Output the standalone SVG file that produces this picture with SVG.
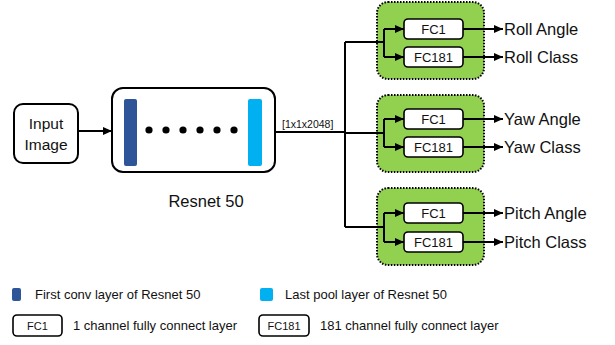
<svg xmlns="http://www.w3.org/2000/svg" width="615" height="345" viewBox="0 0 615 345">
  <defs>
    <marker id="arrow" markerUnits="userSpaceOnUse" markerWidth="9" markerHeight="8" refX="9" refY="4" orient="auto">
      <path d="M0,0 L9,4 L0,8 Z" fill="#000"/>
    </marker>
  </defs>
  <style>
    text { font-family: "Liberation Sans", Arial, sans-serif; fill: #111; }
    .box { fill: #fff; stroke: #000; stroke-width: 2; }
    .fc { fill: #fff; stroke: #000; stroke-width: 1.6; }
    .head { fill: #92D050; stroke: #000; stroke-width: 2; stroke-dasharray: 1.5 1.5; }
    .wire { fill: none; stroke: #000; stroke-width: 2; }
    .arr { fill: none; stroke: #000; stroke-width: 2; marker-end: url(#arrow); }
    .fct { font-size: 13px; text-anchor: middle; }
    .out { font-size: 16.5px; }
    .leg { font-size: 13px; }
  </style>

  <!-- input -->
  <g id="input">
    <rect class="box" x="14" y="104" width="64" height="59" rx="9"/>
    <text x="46" y="129" font-size="15.5" text-anchor="middle">Input</text>
    <text x="46" y="150" font-size="15.5" text-anchor="middle">Image</text>
  </g>

  <!-- backbone -->
  <g id="resnet">
    <rect class="box" x="112" y="88" width="163" height="84" rx="11"/>
    <rect x="124" y="99" width="13" height="67" rx="2" fill="#2E5597"/>
    <rect x="248" y="99" width="14" height="67" rx="2" fill="#00B0F0"/>
    <g fill="#000">
      <circle cx="149" cy="130" r="3.6"/>
      <circle cx="166" cy="130" r="3.6"/>
      <circle cx="183" cy="130" r="3.6"/>
      <circle cx="200" cy="130" r="3.6"/>
      <circle cx="217" cy="130" r="3.6"/>
      <circle cx="234" cy="130" r="3.6"/>
    </g>
    <text x="206" y="207" font-size="16.5" text-anchor="middle">Resnet 50</text>
  </g>

  <!-- heads -->
  <g id="roll">
    <rect class="head" x="377" y="2" width="107" height="77" rx="11"/>
    <rect class="fc" x="404" y="19" width="59" height="20" rx="4"/>
    <text class="fct" x="433.5" y="34">FC1</text>
    <rect class="fc" x="404" y="47" width="59" height="20" rx="4"/>
    <text class="fct" x="433.5" y="62">FC181</text>
    <text class="out" x="504" y="35">Roll Angle</text>
    <text class="out" x="504" y="63">Roll Class</text>
  </g>
  <g id="yaw">
    <rect class="head" x="377" y="95" width="107" height="77" rx="11"/>
    <rect class="fc" x="404" y="109" width="59" height="20" rx="4"/>
    <text class="fct" x="433.5" y="124">FC1</text>
    <rect class="fc" x="404" y="137" width="59" height="20" rx="4"/>
    <text class="fct" x="433.5" y="152">FC181</text>
    <text class="out" x="504" y="125">Yaw Angle</text>
    <text class="out" x="504" y="153">Yaw Class</text>
  </g>
  <g id="pitch">
    <rect class="head" x="377" y="188" width="107" height="77" rx="11"/>
    <rect class="fc" x="404" y="203" width="59" height="20" rx="4"/>
    <text class="fct" x="433.5" y="218">FC1</text>
    <rect class="fc" x="404" y="232" width="59" height="20" rx="4"/>
    <text class="fct" x="433.5" y="247">FC181</text>
    <text class="out" x="504" y="219">Pitch Angle</text>
    <text class="out" x="504" y="248">Pitch Class</text>
  </g>

  <!-- connectors -->
  <g id="connectors">
    <line class="arr" x1="78" y1="131" x2="112" y2="131"/>
    <path class="wire" d="M275,132 H345 M345,42 V227 M345,42 H384 M345,133 H384 M345,227 H384"/>
    <text x="282" y="128" font-size="10.5">[1x1x2048]</text>
    <!-- branch splits -->
    <path class="wire" d="M384,29 V57 M384,119 V147 M384,213 V242"/>
    <line class="arr" x1="384" y1="29" x2="404" y2="29"/>
    <line class="arr" x1="384" y1="57" x2="404" y2="57"/>
    <line class="arr" x1="384" y1="119" x2="404" y2="119"/>
    <line class="arr" x1="384" y1="147" x2="404" y2="147"/>
    <line class="arr" x1="384" y1="213" x2="404" y2="213"/>
    <line class="arr" x1="384" y1="242" x2="404" y2="242"/>
    <!-- outputs -->
    <line class="arr" x1="463" y1="29" x2="503" y2="29"/>
    <line class="arr" x1="463" y1="57" x2="503" y2="57"/>
    <line class="arr" x1="463" y1="119" x2="503" y2="119"/>
    <line class="arr" x1="463" y1="147" x2="503" y2="147"/>
    <line class="arr" x1="463" y1="213" x2="503" y2="213"/>
    <line class="arr" x1="463" y1="242" x2="503" y2="242"/>
  </g>

  <!-- legend -->
  <g id="legend">
    <rect x="12" y="288" width="9" height="13" rx="2" fill="#2E5597"/>
    <text class="leg" x="35" y="299">First conv layer of Resnet 50</text>
    <rect x="260" y="288" width="13" height="13" rx="2" fill="#00B0F0"/>
    <text class="leg" x="285" y="299">Last pool layer of Resnet 50</text>
    <rect class="fc" x="13" y="315" width="49" height="21" rx="4" stroke-width="1.4"/>
    <text x="37.5" y="330" font-size="11" text-anchor="middle">FC1</text>
    <text class="leg" x="73" y="330">1 channel fully connect layer</text>
    <rect class="fc" x="259" y="315" width="50" height="21" rx="4" stroke-width="1.4"/>
    <text x="284" y="330" font-size="11" text-anchor="middle">FC181</text>
    <text class="leg" x="320" y="330">181 channel fully connect layer</text>
  </g>
</svg>
